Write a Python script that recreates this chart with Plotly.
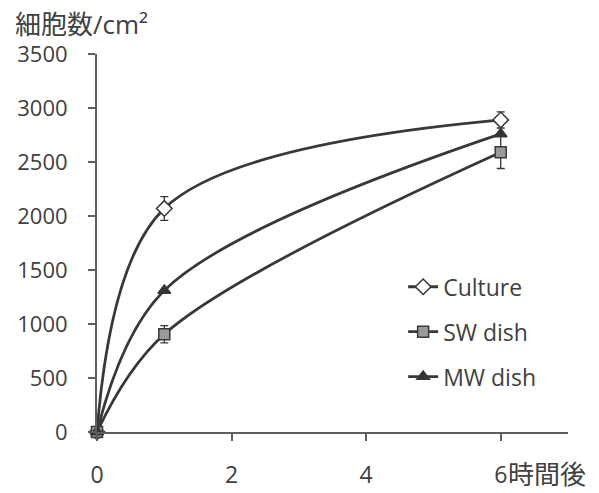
import plotly.graph_objects as go

x_vals = [0, 1, 6]
culture = [0, 2070, 2890]
culture_err = [0, 110, 75]
sw_dish = [0, 905, 2590]
sw_err = [0, 80, 150]
mw_dish = [0, 1310, 2760]
mw_err = [0, 0, 0]

x_ticks = [0, 2, 4, 6]
x_ticktext = ["0", "2", "4", "6"]
y_ticks = [0, 500, 1000, 1500, 2000, 2500, 3000, 3500]

LINE = "#383838"
AX = "#5e5e5e"
TXT = "#404040"
FONT = "'Open Sans', 'Noto Sans CJK JP', sans-serif"

fig = go.Figure()

def add(name, y, err, symbol, fill, size):
    fig.add_trace(go.Scatter(
        x=x_vals, y=y, name=name, mode="lines+markers", legendgroup=name,
        line=dict(color=LINE, width=2.8, shape="spline", smoothing=1.0),
        marker=dict(symbol=symbol, size=size, color=fill,
                    line=dict(color=LINE, width=1.5)),
        error_y=dict(type="data", array=err, visible=True,
                     color=LINE, thickness=1.3, width=4),
        cliponaxis=False,
    ))

add("Culture", culture, culture_err, "diamond", "white", 12)
add("SW dish", sw_dish, sw_err, "square", "#9a9a9a", 11)
add("MW dish", mw_dish, mw_err, "triangle-up", "#333333", 11)

fig.update_layout(
    width=599, height=493,
    margin=dict(l=89, r=39, t=46, b=69, autoexpand=False),
    paper_bgcolor="white", plot_bgcolor="white",
    font=dict(family=FONT, size=22, color=TXT),
    showlegend=True,
    legend=dict(x=0.65, y=0.441, xanchor="left", yanchor="top",
                font=dict(size=23, color=TXT), bgcolor="rgba(0,0,0,0)",
                itemwidth=30, tracegroupgap=12),
    xaxis=dict(range=[0, 7], tickvals=x_ticks, ticktext=x_ticktext,
               showgrid=False, zeroline=False, showline=True, automargin=False,
               linecolor=AX, linewidth=2, ticks="outside", ticklen=7,
               tickcolor=AX, tickwidth=2, ticklabelstandoff=14,
               tickfont=dict(size=23)),
    yaxis=dict(range=[0, 3500], tickvals=y_ticks,
               showgrid=False, zeroline=False, showline=True, automargin=False,
               linecolor=AX, linewidth=2, ticks="outside", ticklen=7,
               tickcolor=AX, tickwidth=2, ticklabelstandoff=16),
    annotations=[
        dict(text="細胞数/cm²", xref="paper", yref="paper",
             x=-0.178, y=1.08, xanchor="left", yanchor="middle",
             showarrow=False, font=dict(size=26, color=TXT)),
        dict(text="時間後", xref="x", yref="paper", x=6, y=0,
             xanchor="left", yanchor="middle", xshift=5, yshift=-42,
             showarrow=False, font=dict(size=26, color=TXT)),
    ],
)

fig.write_html("out.html")
